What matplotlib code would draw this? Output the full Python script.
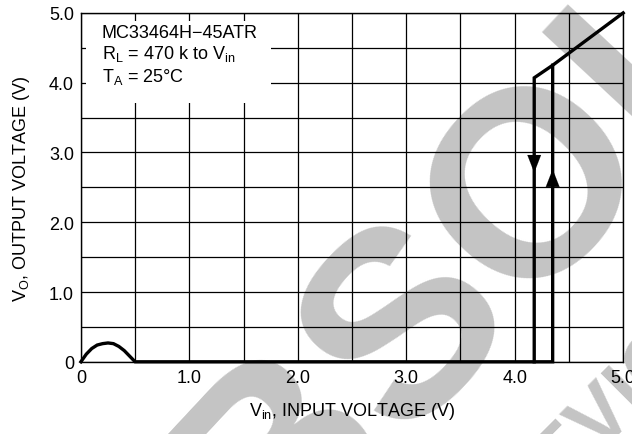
import numpy as np
import matplotlib.pyplot as plt

plt.rcParams['font.family'] = ['Liberation Sans Narrow', 'Liberation Sans', 'DejaVu Sans']
plt.rcParams['mathtext.fontset'] = 'custom'

# hump at low input voltage, then flat until the turn-on point
vin_low = [0.0, 0.05, 0.10, 0.15, 0.20, 0.25, 0.30, 0.35, 0.40, 0.45, 0.50, 4.35, 4.35]
vout_low = [0.0, 0.11, 0.19, 0.24, 0.26, 0.27, 0.26, 0.22, 0.16, 0.08, 0.0, 0.0, 4.25]

# falling branch and output following input
vin_high = [4.18, 4.18, 4.35, 5.0]
vout_high = [0.0, 4.07, 4.25, 5.0]

# hysteresis arrows: (x, start, end)
arrows = [(4.18, 2.88, 2.67), (4.35, 2.62, 2.80)]

xticks = [0, 1, 2, 3, 4, 5]
xlabels = ['0', '1.0', '2.0', '3.0', '4.0', '5.0']
yticks = [0, 1, 2, 3, 4, 5]
ylabels = ['0', '1.0', '2.0', '3.0', '4.0', '5.0']

fig = plt.figure(figsize=(6.32, 4.35), dpi=100)

# obsolete watermark behind everything
fig.text(0.91, 0.65, 'OBSOLETE', fontsize=190, fontweight='bold', color='#c4c4c4',
         rotation=47, ha='center', va='center', family='Liberation Sans', zorder=-5)
fig.text(0.965, 0.06, 'DEVICE', fontsize=58, fontweight='bold', color='#c4c4c4',
         rotation=45, ha='center', va='center', family='Liberation Sans', zorder=-5)

ax = fig.add_axes([0.128, 0.166, 0.858, 0.802])
ax.set_facecolor('none')
ax.set_xlim(0, 5)
ax.set_ylim(0, 5)

ax.set_xticks(xticks)
ax.set_xticklabels(xlabels)
ax.set_yticks(yticks)
ax.set_yticklabels(ylabels)
ax.set_xticks(np.arange(0.5, 5, 1.0), minor=True)
ax.set_yticks(np.arange(0.5, 5, 1.0), minor=True)
ax.grid(True, which='both', color='black', linewidth=0.9)
ax.tick_params(which='both', length=0, labelsize=13, pad=5)
for s in ax.spines.values():
    s.set_linewidth(1.0)

# white box for the conditions text
ax.add_patch(plt.Rectangle((0.05, 3.71), 1.70, 1.18, facecolor='white',
                           edgecolor='none', zorder=2))
ax.text(0.19, 4.72, 'MC33464H\u221245ATR', fontsize=13, va='center', zorder=3)
ax.text(0.19, 4.42, r'R$_\mathregular{L}$ = 470 k to V$_\mathregular{in}$',
        fontsize=13, va='center', zorder=3)
ax.text(0.19, 4.10, r'T$_\mathregular{A}$ = 25°C', fontsize=13, va='center', zorder=3)

ax.plot(vin_low, vout_low, color='black', linewidth=2.4, clip_on=False, zorder=4,
        solid_joinstyle='miter')
ax.plot(vin_high, vout_high, color='black', linewidth=2.4, clip_on=False, zorder=4,
        solid_joinstyle='miter')
for x, y0, y1 in arrows:
    ax.annotate('', xy=(x, y1), xytext=(x, y0),
                arrowprops=dict(arrowstyle='-|>,head_length=0.9,head_width=0.35',
                                color='black', linewidth=0.1, mutation_scale=14),
                zorder=5)

ax.set_xlabel(r'V$_\mathregular{in}$, INPUT VOLTAGE (V)', fontsize=13, labelpad=10)
ax.set_ylabel(r'V$_\mathregular{O}$, OUTPUT VOLTAGE (V)', fontsize=13, labelpad=12)

fig.savefig('out.png', dpi=100)
